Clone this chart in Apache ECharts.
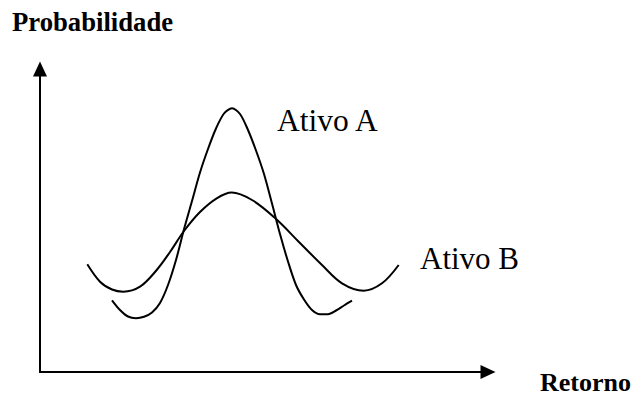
<!DOCTYPE html>
<html>
<head>
<meta charset="utf-8">
<script src="https://cdn.jsdelivr.net/npm/echarts@6/dist/echarts.min.js"></script>
<style>
html,body{margin:0;padding:0;background:#fff;}
#chart{width:634px;height:396px;}
</style>
</head>
<body>
<div id="chart"></div>
<script>
// Ativo A: [retorno, probabilidade] (arbitrary units)
const ativoA = [
  [72,71.7],[80,62],[88,55.5],[96,53.8],[104,55.2],[112,59.5],[120,69],[128,87],
  [136,112],[144,142.7],[152,171],[160,199.5],[168,223],[176,243.5],[184,258.5],
  [192,263.7],[200,258],[208,242],[216,221.5],[224,198],[232,168.5],[240,138],
  [248,110.5],[256,87],[264,72.5],[272,62],[280,57.8],[288,57.8],[296,61.5],[304,66.5],[312,71.3]
];
// Ativo B
const ativoB = [
  [47.3,107.7],[60,90.3],[72,82.5],[83.3,80.3],[100,85.3],[116.7,102],[130,120],[144,141],
  [160,160],[176.7,173.7],[191.7,179.5],[212,172],[235.3,153.7],[258.7,130.3],[282,107],
  [302,88.7],[323.7,81.3],[342,88.7],[358.7,107]
];
const xName = 'Retorno';
const yName = 'Probabilidade';
const seriesNames = ['Ativo A', 'Ativo B'];

const chart = echarts.init(document.getElementById('chart'), null, {renderer: 'svg'});
const serif = 'Liberation Serif';
const axisCommon = {
  type: 'value',
  min: 0,
  axisLine: {show: true, onZero: false, symbol: ['none', 'triangle'], symbolSize: [14, 15],
    lineStyle: {color: '#000', width: 2}},
  axisTick: {show: false},
  axisLabel: {show: false},
  splitLine: {show: false}
};
const lineStyle = {color: '#000', width: 2};
function txt(text, left, top, size, weight) {
  return {type: 'text', left: left, top: top,
    style: {text: text, fontSize: size, fontWeight: weight, fontFamily: serif, fill: '#000'}};
}
chart.setOption({
  animation: false,
  backgroundColor: '#fff',
  grid: {left: 40, top: 69, width: 448, height: 303},
  xAxis: Object.assign({}, axisCommon, {max: 448}),
  yAxis: Object.assign({}, axisCommon, {max: 303}),
  series: [
    {name: seriesNames[0], type: 'line', data: ativoA, smooth: 0.3,
      showSymbol: false, lineStyle: lineStyle},
    {name: seriesNames[1], type: 'line', data: ativoB, smooth: 0.35,
      showSymbol: false, lineStyle: lineStyle}
  ],
  graphic: [
    txt(yName, 12, 8, 26.7, 'bold'),
    txt(xName, 540, 369, 26, 'bold'),
    txt(seriesNames[0], 277, 104, 31.5, 'normal'),
    txt(seriesNames[1], 420, 243, 31, 'normal')
  ]
});
</script>
</body>
</html>
